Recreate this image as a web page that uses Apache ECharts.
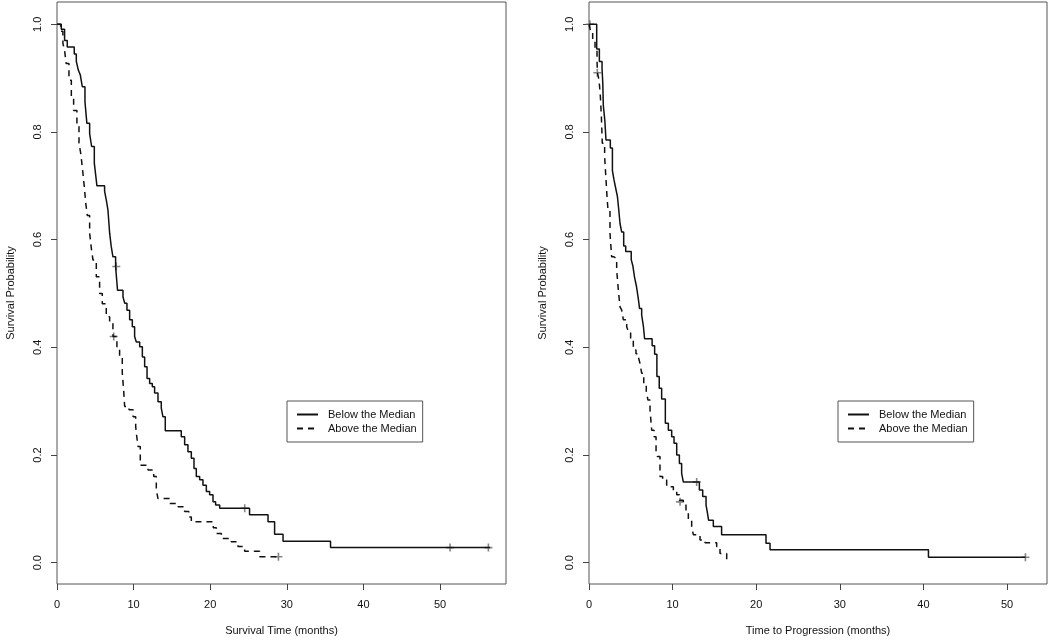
<!DOCTYPE html>
<html><head><meta charset="utf-8">
<script src="https://cdn.jsdelivr.net/npm/echarts@6/dist/echarts.min.js"></script>
<style>html,body{margin:0;padding:0;background:#fff}#c{width:1050px;height:643px}</style>
</head><body><div id="c"></div>
<script>
// ---------- data ----------
const seriesNames = ['Below the Median', 'Above the Median'];
const xTickValues = [0, 10, 20, 30, 40, 50];
const yTickValues = [0, 0.2, 0.4, 0.6, 0.8, 1.0];
const xTitleLeft = 'Survival Time (months)';
const xTitleRight = 'Time to Progression (months)';
const yTitle = 'Survival Probability';

// Left panel: overall survival, below the median (solid)
const osBelowT = [0, 0.56, 0.99, 1.34, 2.25, 2.52, 2.78, 3.04, 3.30, 3.65, 3.90, 4.26, 4.52, 4.87, 5.05, 5.21,
  6.21, 6.43, 6.65, 6.87, 7.08, 7.30, 7.65, 7.90, 8.61, 8.83, 9.13, 9.48, 9.83, 10.13, 10.35, 10.79, 11.14, 11.44,
  11.75, 12.09, 12.44, 12.74, 13.18, 13.61, 13.83, 14.13, 16.22, 16.66, 17.09, 17.53, 17.88, 18.18, 18.62, 19.05,
  19.49, 19.92, 20.36, 20.70, 21.23, 25.13, 27.54, 28.40, 29.50, 35.70, 56.50];
const osBelowS = [1.0, 0.991, 0.970, 0.958, 0.945, 0.931, 0.915, 0.906, 0.884, 0.856, 0.816, 0.797, 0.773, 0.742, 0.720, 0.700,
  0.690, 0.674, 0.655, 0.612, 0.587, 0.568, 0.550, 0.506, 0.494, 0.482, 0.469, 0.451, 0.438, 0.420, 0.410, 0.401, 0.382, 0.364,
  0.342, 0.333, 0.327, 0.315, 0.299, 0.287, 0.271, 0.245, 0.234, 0.219, 0.206, 0.194, 0.175, 0.160, 0.154, 0.144,
  0.132, 0.126, 0.113, 0.107, 0.101, 0.089, 0.076, 0.053, 0.040, 0.028, 0.028];
const osBelowCensT = [7.74, 24.5, 51.3, 56.3];
const osBelowCensS = [0.550, 0.101, 0.028, 0.028];

// Left panel: overall survival, above the median (dashed)
const osAboveT = [0, 0.47, 0.77, 1.00, 1.20, 1.56, 1.87, 2.17, 2.60, 2.87, 3.10, 3.30, 3.55, 3.75, 3.95, 4.26, 4.48, 4.70,
  5.13, 5.56, 5.91, 6.43, 6.87, 7.30, 7.82, 8.17, 8.52, 8.70, 8.83, 9.40, 9.93, 10.27, 10.40, 10.57, 10.87, 11.88, 12.62,
  12.96, 13.18, 14.70, 15.80, 16.66, 17.20, 17.53, 20.40, 20.80, 21.45, 22.75, 23.62, 24.49, 26.45, 28.90];
const osAboveS = [1.0, 0.987, 0.965, 0.950, 0.927, 0.896, 0.865, 0.840, 0.810, 0.779, 0.760, 0.735, 0.700, 0.668, 0.645, 0.612, 0.584, 0.562,
  0.531, 0.500, 0.481, 0.457, 0.445, 0.420, 0.401, 0.383, 0.352, 0.320, 0.290, 0.284, 0.271, 0.253, 0.235, 0.216, 0.181, 0.172, 0.160,
  0.135, 0.119, 0.110, 0.104, 0.095, 0.085, 0.076, 0.065, 0.054, 0.045, 0.039, 0.030, 0.021, 0.011, 0.011];
const osAboveCensT = [7.40, 28.90];
const osAboveCensS = [0.420, 0.011];

// Right panel: time to progression, below the median (solid)
const ttpBelowT = [0, 0.92, 1.24, 1.56, 1.65, 1.71, 1.90, 2.03, 2.55, 2.80, 2.99, 3.20, 3.40, 3.55, 3.71, 3.91, 4.15, 4.39,
  5.05, 5.25, 5.45, 5.68, 5.90, 6.05, 6.30, 6.50, 6.65, 7.55, 7.85, 8.12, 8.40, 8.69, 9.13, 9.49, 9.89, 10.17, 10.49, 10.81,
  11.08, 11.28, 13.20, 13.60, 14.00, 14.15, 14.30, 14.87, 15.86, 21.17, 21.65, 40.60, 52.20];
const ttpBelowS = [1.0, 0.954, 0.931, 0.918, 0.890, 0.850, 0.820, 0.785, 0.770, 0.728, 0.711, 0.695, 0.680, 0.657, 0.630, 0.614, 0.588, 0.578,
  0.563, 0.551, 0.530, 0.513, 0.490, 0.472, 0.460, 0.440, 0.416, 0.403, 0.387, 0.346, 0.324, 0.304, 0.259, 0.246, 0.234, 0.222, 0.200, 0.184,
  0.166, 0.150, 0.135, 0.123, 0.107, 0.094, 0.079, 0.067, 0.052, 0.036, 0.024, 0.010, 0.010];
const ttpBelowCensT = [0.10, 12.88, 52.20];
const ttpBelowCensS = [1.0, 0.150, 0.010];

// Right panel: time to progression, above the median (dashed)
const ttpAboveT = [0, 0.20, 0.44, 0.72, 0.96, 1.00, 1.20, 1.36, 1.48, 1.59, 1.87, 1.99, 2.13, 2.27, 2.51, 2.71, 2.99, 3.31,
  3.51, 3.71, 3.91, 4.11, 4.51, 4.71, 4.98, 5.30, 5.62, 5.90, 6.10, 6.30, 6.55, 6.85, 7.05, 7.30, 7.50, 7.78, 8.02, 8.18,
  8.49, 8.81, 9.29, 10.09, 10.49, 10.81, 11.28, 11.60, 11.88, 12.28, 12.48, 13.28, 13.88, 15.27, 15.67, 16.47];
const ttpAboveS = [1.0, 0.986, 0.971, 0.952, 0.934, 0.910, 0.897, 0.866, 0.829, 0.779, 0.754, 0.723, 0.686, 0.655, 0.612, 0.568, 0.565, 0.544,
  0.506, 0.475, 0.469, 0.451, 0.438, 0.429, 0.413, 0.395, 0.388, 0.382, 0.370, 0.352, 0.333, 0.318, 0.302, 0.284, 0.246, 0.234, 0.206, 0.197,
  0.160, 0.154, 0.141, 0.135, 0.126, 0.116, 0.110, 0.091, 0.079, 0.067, 0.052, 0.042, 0.037, 0.030, 0.017, 0.0];
const ttpAboveCensT = [1.00, 10.89];
const ttpAboveCensS = [0.910, 0.113];

// ---------- build ----------
const zip = (t, s) => t.map((v, i) => [v, s[i]]);
const FONT = '"Liberation Sans", Arial, Helvetica, sans-serif';
const TXT = '#111';
const LINE = '#111';
const plusPath = 'path://M4,0H6V4H10V6H6V10H4V6H0V4H4Z';

function xAxis(gi, max, title) {
  return {
    type: 'value', gridIndex: gi, min: 0, max: max,
    name: title, nameLocation: 'middle', nameGap: 41,
    nameTextStyle: {fontFamily: FONT, fontSize: 11, color: TXT},
    axisLine: {show: false, onZero: false},
    axisTick: {show: true, inside: false, length: 6, customValues: xTickValues, lineStyle: {color: '#444', width: 1}},
    axisLabel: {customValues: xTickValues, margin: 15, fontFamily: FONT, fontSize: 11, color: TXT},
    splitLine: {show: false}
  };
}
function yAxis(gi) {
  return {
    type: 'value', gridIndex: gi, min: -0.0396, max: 1.0414,
    name: yTitle, nameLocation: 'middle', nameGap: 41,
    nameTextStyle: {fontFamily: FONT, fontSize: 11, color: TXT},
    axisLine: {show: false, onZero: false},
    axisTick: {show: true, inside: false, length: 6, customValues: yTickValues, lineStyle: {color: '#444', width: 1}},
    axisLabel: {customValues: yTickValues, rotate: 90, margin: 14, fontFamily: FONT, fontSize: 11, color: TXT,
      formatter: v => v.toFixed(1)},
    splitLine: {show: false}
  };
}
function km(name, t, s, gi, dashed) {
  return {
    type: 'line', name: name, xAxisIndex: gi, yAxisIndex: gi, step: 'end',
    data: zip(t, s), symbol: 'none', silent: true, animation: false,
    lineStyle: {color: LINE, width: 1.5, type: dashed ? [6, 5] : 'solid'},
    itemStyle: {color: LINE}
  };
}
function cens(t, s, gi) {
  return {
    type: 'scatter', name: 'censored', xAxisIndex: gi, yAxisIndex: gi,
    data: zip(t, s), symbol: plusPath, symbolSize: 8, silent: true, animation: false,
    itemStyle: {color: '#666'}
  };
}
function legend(left) {
  return {
    data: seriesNames, orient: 'vertical', left: left, top: 401,
    itemWidth: 21, itemHeight: 11, itemGap: 3,
    padding: [8, 6, 8, 9],
    borderColor: '#555', borderWidth: 1, borderRadius: 0,
    selectedMode: false,
    itemStyle: {color: 'rgba(0,0,0,0)', borderColor: 'rgba(0,0,0,0)', borderWidth: 0, opacity: 0},
    textStyle: {fontFamily: FONT, fontSize: 11, color: TXT, padding: [0, 0, 0, 5]}
  };
}

const chart = echarts.init(document.getElementById('c'), null, {renderer: 'canvas'});
chart.setOption({
  backgroundColor: '#fff',
  animation: false,
  grid: [
    {left: 57, top: 2, width: 449, height: 582, show: true, borderColor: '#555', borderWidth: 1, backgroundColor: 'transparent'},
    {left: 589, top: 2, width: 458, height: 582, show: true, borderColor: '#555', borderWidth: 1, backgroundColor: 'transparent'}
  ],
  xAxis: [xAxis(0, 58.6, xTitleLeft), xAxis(1, 54.78, xTitleRight)],
  yAxis: [yAxis(0), yAxis(1)],
  legend: [legend(287), legend(838)],
  series: [
    km(seriesNames[0], osBelowT, osBelowS, 0, false),
    km(seriesNames[1], osAboveT, osAboveS, 0, true),
    cens(osBelowCensT, osBelowCensS, 0),
    cens(osAboveCensT, osAboveCensS, 0),
    km(seriesNames[0], ttpBelowT, ttpBelowS, 1, false),
    km(seriesNames[1], ttpAboveT, ttpAboveS, 1, true),
    cens(ttpBelowCensT, ttpBelowCensS, 1),
    cens(ttpAboveCensT, ttpAboveCensS, 1)
  ]
});
</script>
</body></html>
